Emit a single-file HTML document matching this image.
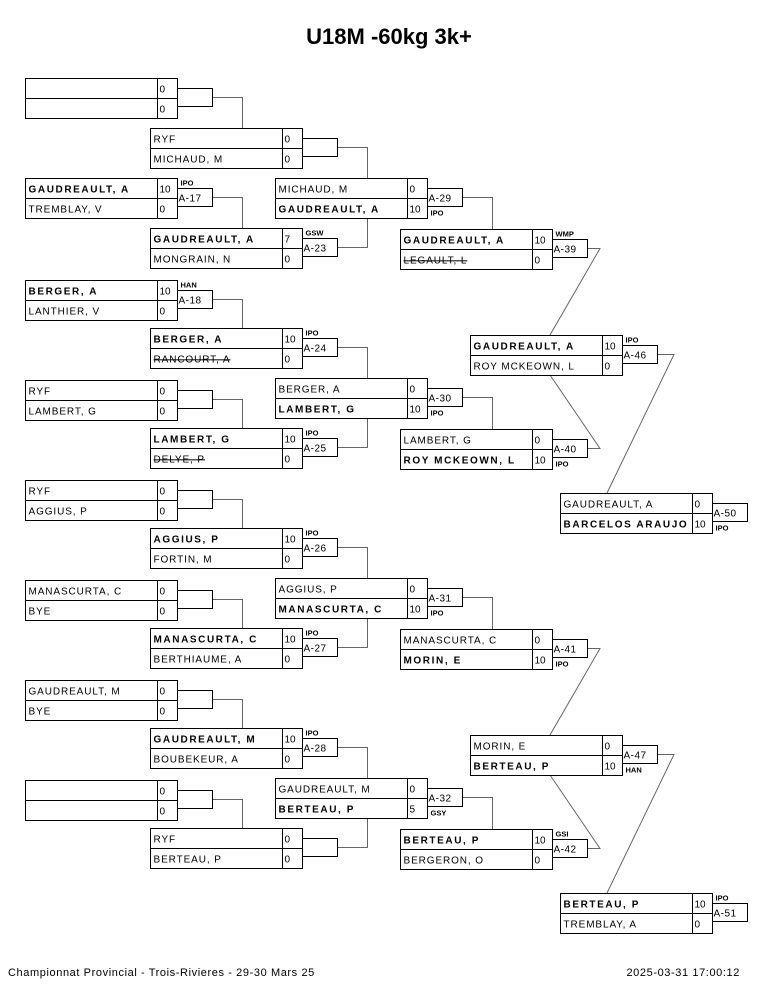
<!DOCTYPE html>
<html><head><meta charset="utf-8"><style>
html,body{margin:0;padding:0;background:#fff;}
svg{display:block;}
text{font-family:"Liberation Sans",Arial,sans-serif;fill:#000;}
.n{font-size:10px;letter-spacing:0.9px;}
.b{font-size:10px;font-weight:bold;letter-spacing:1.6px;}
.s{font-size:10px;}
.t{font-size:10px;letter-spacing:0.5px;}
.a{font-size:7.5px;font-weight:bold;}
.st{text-decoration:line-through;}
.f{font-size:11px;letter-spacing:0.6px;}
rect{fill:none;stroke:#000;stroke-width:1;}
.c{fill:none;stroke:#666;stroke-width:1;}
</style></head><body>
<svg width="765" height="990" viewBox="0 0 765 990" xmlns="http://www.w3.org/2000/svg">
<text x="389" y="44" text-anchor="middle" style="font-size:22px;font-weight:bold;">U18M -60kg 3k+</text>

<!-- connectors -->
<path class="c" d="M212.5,97.5H242.5V128 M212.5,197.5H242.5V228 M212.5,299.5H242.5V328 M212.5,399.5H242.5V428 M212.5,499.5H242.5V528 M212.5,599.5H242.5V628 M212.5,699.5H242.5V728 M212.5,799.5H242.5V828"/>
<path class="c" d="M337.5,147.5H367.5V178 M337.5,247.5H367.5V218 M337.5,347.5H367.5V378 M337.5,447.5H367.5V418 M337.5,547.5H367.5V578 M337.5,647.5H367.5V618 M337.5,747.5H367.5V778 M337.5,847.5H367.5V818"/>
<path class="c" d="M462.5,197.5H492.5V229 M462.5,397.5H492.5V429 M462.5,597.5H492.5V629 M462.5,797.5H492.5V829"/>
<path class="c" d="M587.5,248.5H600L550,335 M587.5,448.5H600L550,375 M587.5,648.5H600L550,735 M587.5,848.5H600L550,775"/>
<path class="c" d="M657.5,354.5H674L607,493 M657.5,754.5H674L607,893"/>

<!-- col0 -->
<g transform="translate(25.5,78.5)"><rect width="152" height="40"/><path d="M0,20H152M132,0V40" stroke="#000"/><text class="s" x="134" y="14">0</text><text class="s" x="134" y="34">0</text><rect x="152" y="10" width="35" height="18"/></g>
<g transform="translate(25.5,178.5)"><rect width="152" height="40"/><path d="M0,20H152M132,0V40" stroke="#000"/><text class="b" x="3" y="14">GAUDREAULT, A</text><text class="n" x="3" y="34">TREMBLAY, V</text><text class="s" x="134" y="14">10</text><text class="s" x="134" y="34">0</text><rect x="152" y="10" width="35" height="18"/><text class="t" x="153" y="23">A-17</text><text class="a" x="155" y="7">IPO</text></g>
<g transform="translate(25.5,280.5)"><rect width="152" height="40"/><path d="M0,20H152M132,0V40" stroke="#000"/><text class="b" x="3" y="14">BERGER, A</text><text class="n" x="3" y="34">LANTHIER, V</text><text class="s" x="134" y="14">10</text><text class="s" x="134" y="34">0</text><rect x="152" y="10" width="35" height="18"/><text class="t" x="153" y="23">A-18</text><text class="a" x="155" y="7">HAN</text></g>
<g transform="translate(25.5,380.5)"><rect width="152" height="40"/><path d="M0,20H152M132,0V40" stroke="#000"/><text class="n" x="3" y="14">RYF</text><text class="n" x="3" y="34">LAMBERT, G</text><text class="s" x="134" y="14">0</text><text class="s" x="134" y="34">0</text><rect x="152" y="10" width="35" height="18"/></g>
<g transform="translate(25.5,480.5)"><rect width="152" height="40"/><path d="M0,20H152M132,0V40" stroke="#000"/><text class="n" x="3" y="14">RYF</text><text class="n" x="3" y="34">AGGIUS, P</text><text class="s" x="134" y="14">0</text><text class="s" x="134" y="34">0</text><rect x="152" y="10" width="35" height="18"/></g>
<g transform="translate(25.5,580.5)"><rect width="152" height="40"/><path d="M0,20H152M132,0V40" stroke="#000"/><text class="n" x="3" y="14">MANASCURTA, C</text><text class="n" x="3" y="34">BYE</text><text class="s" x="134" y="14">0</text><text class="s" x="134" y="34">0</text><rect x="152" y="10" width="35" height="18"/></g>
<g transform="translate(25.5,680.5)"><rect width="152" height="40"/><path d="M0,20H152M132,0V40" stroke="#000"/><text class="n" x="3" y="14">GAUDREAULT, M</text><text class="n" x="3" y="34">BYE</text><text class="s" x="134" y="14">0</text><text class="s" x="134" y="34">0</text><rect x="152" y="10" width="35" height="18"/></g>
<g transform="translate(25.5,780.5)"><rect width="152" height="40"/><path d="M0,20H152M132,0V40" stroke="#000"/><text class="s" x="134" y="14">0</text><text class="s" x="134" y="34">0</text><rect x="152" y="10" width="35" height="18"/></g>

<!-- col1 -->
<g transform="translate(150.5,128.5)"><rect width="152" height="40"/><path d="M0,20H152M132,0V40" stroke="#000"/><text class="n" x="3" y="14">RYF</text><text class="n" x="3" y="34">MICHAUD, M</text><text class="s" x="134" y="14">0</text><text class="s" x="134" y="34">0</text><rect x="152" y="10" width="35" height="18"/></g>
<g transform="translate(150.5,228.5)"><rect width="152" height="40"/><path d="M0,20H152M132,0V40" stroke="#000"/><text class="b" x="3" y="14">GAUDREAULT, A</text><text class="n" x="3" y="34">MONGRAIN, N</text><text class="s" x="134" y="14">7</text><text class="s" x="134" y="34">0</text><rect x="152" y="10" width="35" height="18"/><text class="t" x="153" y="23">A-23</text><text class="a" x="155" y="7">GSW</text></g>
<g transform="translate(150.5,328.5)"><rect width="152" height="40"/><path d="M0,20H152M132,0V40" stroke="#000"/><text class="b" x="3" y="14">BERGER, A</text><text class="n st" x="3" y="34">RANCOURT, A</text><text class="s" x="134" y="14">10</text><text class="s" x="134" y="34">0</text><rect x="152" y="10" width="35" height="18"/><text class="t" x="153" y="23">A-24</text><text class="a" x="155" y="7">IPO</text></g>
<g transform="translate(150.5,428.5)"><rect width="152" height="40"/><path d="M0,20H152M132,0V40" stroke="#000"/><text class="b" x="3" y="14">LAMBERT, G</text><text class="n st" x="3" y="34">DELYE, P</text><text class="s" x="134" y="14">10</text><text class="s" x="134" y="34">0</text><rect x="152" y="10" width="35" height="18"/><text class="t" x="153" y="23">A-25</text><text class="a" x="155" y="7">IPO</text></g>
<g transform="translate(150.5,528.5)"><rect width="152" height="40"/><path d="M0,20H152M132,0V40" stroke="#000"/><text class="b" x="3" y="14">AGGIUS, P</text><text class="n" x="3" y="34">FORTIN, M</text><text class="s" x="134" y="14">10</text><text class="s" x="134" y="34">0</text><rect x="152" y="10" width="35" height="18"/><text class="t" x="153" y="23">A-26</text><text class="a" x="155" y="7">IPO</text></g>
<g transform="translate(150.5,628.5)"><rect width="152" height="40"/><path d="M0,20H152M132,0V40" stroke="#000"/><text class="b" x="3" y="14">MANASCURTA, C</text><text class="n" x="3" y="34">BERTHIAUME, A</text><text class="s" x="134" y="14">10</text><text class="s" x="134" y="34">0</text><rect x="152" y="10" width="35" height="18"/><text class="t" x="153" y="23">A-27</text><text class="a" x="155" y="7">IPO</text></g>
<g transform="translate(150.5,728.5)"><rect width="152" height="40"/><path d="M0,20H152M132,0V40" stroke="#000"/><text class="b" x="3" y="14">GAUDREAULT, M</text><text class="n" x="3" y="34">BOUBEKEUR, A</text><text class="s" x="134" y="14">10</text><text class="s" x="134" y="34">0</text><rect x="152" y="10" width="35" height="18"/><text class="t" x="153" y="23">A-28</text><text class="a" x="155" y="7">IPO</text></g>
<g transform="translate(150.5,828.5)"><rect width="152" height="40"/><path d="M0,20H152M132,0V40" stroke="#000"/><text class="n" x="3" y="14">RYF</text><text class="n" x="3" y="34">BERTEAU, P</text><text class="s" x="134" y="14">0</text><text class="s" x="134" y="34">0</text><rect x="152" y="10" width="35" height="18"/></g>

<!-- col2 -->
<g transform="translate(275.5,178.5)"><rect width="152" height="40"/><path d="M0,20H152M132,0V40" stroke="#000"/><text class="n" x="3" y="14">MICHAUD, M</text><text class="b" x="3" y="34">GAUDREAULT, A</text><text class="s" x="134" y="14">0</text><text class="s" x="134" y="34">10</text><rect x="152" y="10" width="35" height="18"/><text class="t" x="153" y="23">A-29</text><text class="a" x="155" y="37">IPO</text></g>
<g transform="translate(275.5,378.5)"><rect width="152" height="40"/><path d="M0,20H152M132,0V40" stroke="#000"/><text class="n" x="3" y="14">BERGER, A</text><text class="b" x="3" y="34">LAMBERT, G</text><text class="s" x="134" y="14">0</text><text class="s" x="134" y="34">10</text><rect x="152" y="10" width="35" height="18"/><text class="t" x="153" y="23">A-30</text><text class="a" x="155" y="37">IPO</text></g>
<g transform="translate(275.5,578.5)"><rect width="152" height="40"/><path d="M0,20H152M132,0V40" stroke="#000"/><text class="n" x="3" y="14">AGGIUS, P</text><text class="b" x="3" y="34">MANASCURTA, C</text><text class="s" x="134" y="14">0</text><text class="s" x="134" y="34">10</text><rect x="152" y="10" width="35" height="18"/><text class="t" x="153" y="23">A-31</text><text class="a" x="155" y="37">IPO</text></g>
<g transform="translate(275.5,778.5)"><rect width="152" height="40"/><path d="M0,20H152M132,0V40" stroke="#000"/><text class="n" x="3" y="14">GAUDREAULT, M</text><text class="b" x="3" y="34">BERTEAU, P</text><text class="s" x="134" y="14">0</text><text class="s" x="134" y="34">5</text><rect x="152" y="10" width="35" height="18"/><text class="t" x="153" y="23">A-32</text><text class="a" x="155" y="37">GSY</text></g>

<!-- col3 -->
<g transform="translate(400.5,229.5)"><rect width="152" height="40"/><path d="M0,20H152M132,0V40" stroke="#000"/><text class="b" x="3" y="14">GAUDREAULT, A</text><text class="n st" x="3" y="34">LEGAULT, L</text><text class="s" x="134" y="14">10</text><text class="s" x="134" y="34">0</text><rect x="152" y="10" width="35" height="18"/><text class="t" x="153" y="23">A-39</text><text class="a" x="155" y="7">WMP</text></g>
<g transform="translate(400.5,429.5)"><rect width="152" height="40"/><path d="M0,20H152M132,0V40" stroke="#000"/><text class="n" x="3" y="14">LAMBERT, G</text><text class="b" x="3" y="34">ROY MCKEOWN, L</text><text class="s" x="134" y="14">0</text><text class="s" x="134" y="34">10</text><rect x="152" y="10" width="35" height="18"/><text class="t" x="153" y="23">A-40</text><text class="a" x="155" y="37">IPO</text></g>
<g transform="translate(400.5,629.5)"><rect width="152" height="40"/><path d="M0,20H152M132,0V40" stroke="#000"/><text class="n" x="3" y="14">MANASCURTA, C</text><text class="b" x="3" y="34">MORIN, E</text><text class="s" x="134" y="14">0</text><text class="s" x="134" y="34">10</text><rect x="152" y="10" width="35" height="18"/><text class="t" x="153" y="23">A-41</text><text class="a" x="155" y="37">IPO</text></g>
<g transform="translate(400.5,829.5)"><rect width="152" height="40"/><path d="M0,20H152M132,0V40" stroke="#000"/><text class="b" x="3" y="14">BERTEAU, P</text><text class="n" x="3" y="34">BERGERON, O</text><text class="s" x="134" y="14">10</text><text class="s" x="134" y="34">0</text><rect x="152" y="10" width="35" height="18"/><text class="t" x="153" y="23">A-42</text><text class="a" x="155" y="7">GSI</text></g>

<!-- col4 -->
<g transform="translate(470.5,335.5)"><rect width="152" height="40"/><path d="M0,20H152M132,0V40" stroke="#000"/><text class="b" x="3" y="14">GAUDREAULT, A</text><text class="n" x="3" y="34">ROY MCKEOWN, L</text><text class="s" x="134" y="14">10</text><text class="s" x="134" y="34">0</text><rect x="152" y="10" width="35" height="18"/><text class="t" x="153" y="23">A-46</text><text class="a" x="155" y="7">IPO</text></g>
<g transform="translate(470.5,735.5)"><rect width="152" height="40"/><path d="M0,20H152M132,0V40" stroke="#000"/><text class="n" x="3" y="14">MORIN, E</text><text class="b" x="3" y="34">BERTEAU, P</text><text class="s" x="134" y="14">0</text><text class="s" x="134" y="34">10</text><rect x="152" y="10" width="35" height="18"/><text class="t" x="153" y="23">A-47</text><text class="a" x="155" y="37">HAN</text></g>

<!-- col5 -->
<g transform="translate(560.5,493.5)"><rect width="152" height="40"/><path d="M0,20H152M132,0V40" stroke="#000"/><text class="n" x="3" y="14">GAUDREAULT, A</text><text class="b" x="3" y="34">BARCELOS ARAUJO</text><text class="s" x="134" y="14">0</text><text class="s" x="134" y="34">10</text><rect x="152" y="10" width="35" height="18"/><text class="t" x="153" y="23">A-50</text><text class="a" x="155" y="37">IPO</text></g>
<g transform="translate(560.5,893.5)"><rect width="152" height="40"/><path d="M0,20H152M132,0V40" stroke="#000"/><text class="b" x="3" y="14">BERTEAU, P</text><text class="n" x="3" y="34">TREMBLAY, A</text><text class="s" x="134" y="14">10</text><text class="s" x="134" y="34">0</text><rect x="152" y="10" width="35" height="18"/><text class="t" x="153" y="23">A-51</text><text class="a" x="155" y="7">IPO</text></g>

<text class="f" x="8" y="976">Championnat Provincial - Trois-Rivieres -  29-30 Mars 25</text>
<text class="f" x="740" y="976" text-anchor="end">2025-03-31 17:00:12</text>
</svg>
</body></html>
